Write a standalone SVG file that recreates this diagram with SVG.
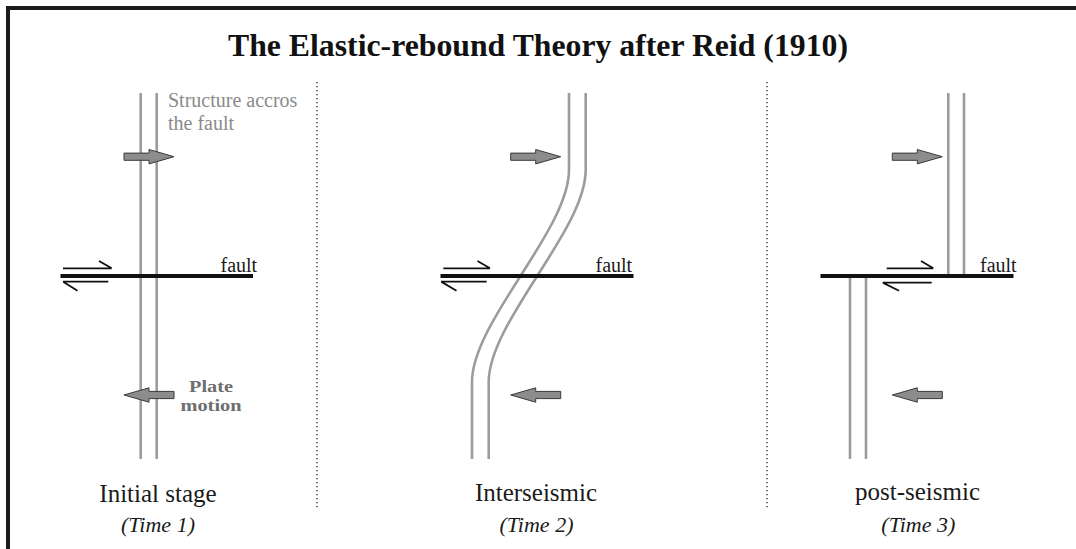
<svg xmlns="http://www.w3.org/2000/svg" width="1076" height="549" viewBox="0 0 1076 549">
  <style>
    .frame { fill: none; stroke: #1c1c1c; stroke-width: 4; }
    .title { font-family: "Liberation Serif", "Times New Roman", serif; font-weight: bold; font-size: 32px; fill: #111; }
    .struct { fill: none; stroke: #9c9c9c; stroke-width: 2.6; }
    .fault { fill: none; stroke: #111; stroke-width: 4.2; }
    .shear { fill: none; stroke: #111; stroke-width: 1.8; }
    .sep { fill: none; stroke: #222; stroke-width: 1.3; stroke-dasharray: 1.3 2.7; }
    .lbl { font-family: "Liberation Serif", "Times New Roman", serif; font-size: 20px; fill: #1a1a1a; }
    .note { font-family: "Liberation Serif", "Times New Roman", serif; font-size: 20px; fill: #8a8a8a; }
    .plate { font-family: "Liberation Serif", "Times New Roman", serif; font-size: 17px; font-weight: bold; fill: #6e6e6e; }
    .stage { font-family: "Liberation Serif", "Times New Roman", serif; font-size: 25px; fill: #1a1a1a; }
    .time { font-family: "Liberation Serif", "Times New Roman", serif; font-size: 22px; font-style: italic; fill: #1a1a1a; }
    .blk { fill: #8c8c8c; stroke: #3a3a3a; stroke-width: 1; }
  </style>
  <defs>
    <path id="blockArrow" class="blk" d="M0,-3.6 H25 V-7.2 L50,0 L25,7.2 V3.6 H0 Z"/>
  </defs>

  <g id="frame">
    <path class="frame" d="M8,549 V8 H1076"/>
  </g>

  <g id="title">
    <text class="title" x="538" y="56" text-anchor="middle" textLength="620" lengthAdjust="spacingAndGlyphs">The Elastic-rebound Theory after Reid (1910)</text>
  </g>

  <g id="separators">
    <line class="sep" x1="317" y1="82" x2="317" y2="509"/>
    <line class="sep" x1="767" y1="82" x2="767" y2="509"/>
  </g>

  <g id="panel-1">
    <g id="p1-structure">
      <line class="struct" x1="140.7" y1="93" x2="140.7" y2="459"/>
      <line class="struct" x1="156.7" y1="93" x2="156.7" y2="459"/>
    </g>
    <g id="p1-structure-label">
      <text class="note" x="168" y="107">Structure accros</text>
      <text class="note" x="168" y="129.5">the fault</text>
    </g>
    <g id="p1-fault">
      <line class="fault" x1="60.5" y1="276" x2="253" y2="276"/>
      <text class="lbl" x="220.5" y="272">fault</text>
    </g>
    <g id="p1-plate-label">
      <text class="plate" x="211" y="392" text-anchor="middle" textLength="44" lengthAdjust="spacingAndGlyphs">Plate</text>
      <text class="plate" x="211" y="411" text-anchor="middle" textLength="61" lengthAdjust="spacingAndGlyphs">motion</text>
    </g>
    <g id="p1-stage">
      <text class="stage" x="158" y="502" text-anchor="middle">Initial stage</text>
      <text class="time" x="158" y="532" text-anchor="middle">(Time 1)</text>
    </g>
  </g>

  <g id="panel-2">
    <g id="p2-structure">
      <path class="struct" d="M569,93 V170 C569,230 472,322 472,382 V459"/>
      <path class="struct" d="M585.7,93 V170 C585.7,230 488.7,322 488.7,382 V459"/>
    </g>
    <g id="p2-fault">
      <line class="fault" x1="440.5" y1="276" x2="633.5" y2="276"/>
      <text class="lbl" x="595.5" y="272">fault</text>
    </g>
    <g id="p2-stage">
      <text class="stage" x="536" y="500.5" text-anchor="middle">Interseismic</text>
      <text class="time" x="536.5" y="532" text-anchor="middle">(Time 2)</text>
    </g>
  </g>

  <g id="panel-3">
    <g id="p3-structure">
      <line class="struct" x1="948.3" y1="93" x2="948.3" y2="276"/>
      <line class="struct" x1="964" y1="93" x2="964" y2="276"/>
      <line class="struct" x1="850" y1="276" x2="850" y2="459"/>
      <line class="struct" x1="866" y1="276" x2="866" y2="459"/>
    </g>
    <g id="p3-fault">
      <line class="fault" x1="820.5" y1="276" x2="1013.5" y2="276"/>
      <text class="lbl" x="980" y="272">fault</text>
    </g>
    <g id="p3-stage">
      <text class="stage" x="917.5" y="500" text-anchor="middle">post-seismic</text>
      <text class="time" x="918.3" y="532" text-anchor="middle">(Time 3)</text>
    </g>
  </g>

  <g id="connectors">
    <g id="plate-motion-arrows">
      <use href="#blockArrow" transform="translate(124,156.7)"/>
      <use href="#blockArrow" transform="translate(174,395) scale(-1,1)"/>
      <use href="#blockArrow" transform="translate(510.7,156.7)"/>
      <use href="#blockArrow" transform="translate(560.7,395) scale(-1,1)"/>
      <use href="#blockArrow" transform="translate(892.3,156.7)"/>
      <use href="#blockArrow" transform="translate(942.3,395) scale(-1,1)"/>
    </g>
    <g id="shear-arrows">
      <path class="shear" d="M63,268.3 H111.7 M99,261 L111.7,268.3"/>
      <path class="shear" d="M63,281.7 H108.3 M63.5,281.9 L77.5,290.7"/>
      <path class="shear" d="M443.3,268.3 H490 M477.5,261 L490,268.3"/>
      <path class="shear" d="M441,281.7 H486.7 M441.5,281.9 L456.5,290.7"/>
      <path class="shear" d="M886.7,268.3 H933.3 M921,261 L933.3,268.3"/>
      <path class="shear" d="M882.7,282.7 H931.7 M883.2,282.9 L899,290.7"/>
    </g>
  </g>
</svg>
